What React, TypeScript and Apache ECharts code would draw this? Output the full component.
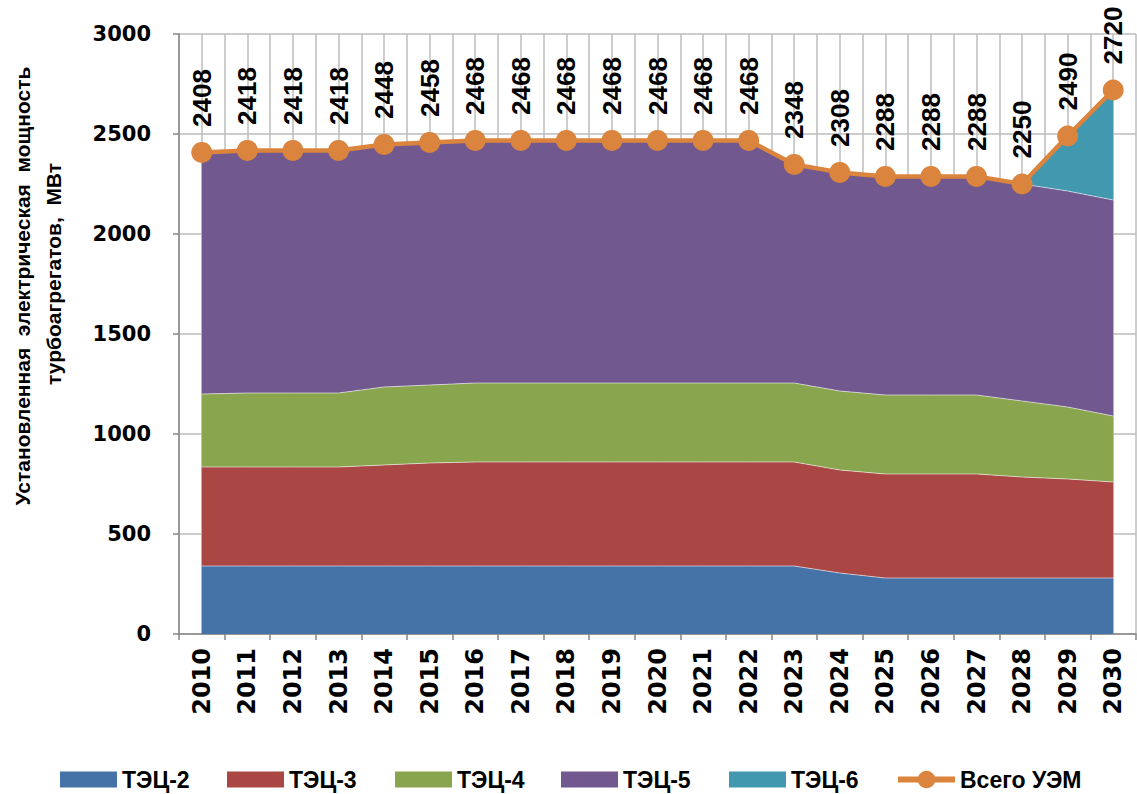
import React, { useEffect, useRef } from "react";
import * as echarts from "echarts";

const years = ["2010","2011","2012","2013","2014","2015","2016","2017","2018","2019","2020","2021","2022","2023","2024","2025","2026","2027","2028","2029","2030"];
const tec2 = [340,340,340,340,340,340,340,340,340,340,340,340,340,340,305,280,280,280,280,280,280];
const tec3 = [495,495,495,495,505,515,520,520,520,520,520,520,520,520,515,520,520,520,505,495,480];
const tec4 = [365,370,370,370,390,390,395,395,395,395,395,395,395,395,395,395,395,395,380,360,330];
const tec5 = [1208,1213,1213,1213,1213,1213,1213,1213,1213,1213,1213,1213,1213,1093,1093,1093,1093,1093,1085,1080,1080];
const tec6 = [0,0,0,0,0,0,0,0,0,0,0,0,0,0,0,0,0,0,0,275,550];
const total = [2408,2418,2418,2418,2448,2458,2468,2468,2468,2468,2468,2468,2468,2348,2308,2288,2288,2288,2250,2490,2720];

const areaNames = ["ТЭЦ-2", "ТЭЦ-3", "ТЭЦ-4", "ТЭЦ-5", "ТЭЦ-6"];
const areaData = [tec2, tec3, tec4, tec5, tec6];
const areaColors = ["#4572A7", "#AA4643", "#89A54E", "#71588F", "#4198AF"];
const totalName = "Всего УЭМ";
const totalColor = "#DB843D";
const yTitle1 = "Установленная  электрическая  мощность";
const yTitle2 = "турбоагрегатов,  МВт";

const LIB = '"Liberation Sans", Arial, sans-serif';
const DJV = '"DejaVu Sans", sans-serif';

export default function App() {
  const ref = useRef<HTMLDivElement>(null);
  useEffect(() => {
    document.body.style.margin = "0";
    const chart = echarts.init(ref.current!, null, { renderer: "svg" });
    const halves = years.flatMap((y) => [y + "a", y + "b"]);
    const legendLefts = [55, 222, 390, 556, 724, 890];
    const legendNames = [...areaNames, totalName];
    const option: any = {
      animation: false,
      backgroundColor: "#ffffff",
      grid: { left: 179, right: 1, top: 34, bottom: 160, containLabel: false },
      legend: legendNames.map((n, i) => ({
        data: i < 5 ? [{ name: n, icon: "rect" }] : [{ name: n }],
        left: legendLefts[i],
        top: 763,
        itemWidth: 57,
        itemHeight: i < 5 ? 16 : 22,
        itemGap: 0,
        lineStyle: i < 5 ? undefined : { width: 6 },
        textStyle: { fontFamily: LIB, fontSize: 23, fontWeight: "bold", color: "#000" },
      })),
      xAxis: [
        {
          type: "category",
          data: years,
          boundaryGap: true,
          axisLine: { lineStyle: { color: "#868686", width: 1.5 } },
          axisTick: { show: true, interval: 0, length: 6, lineStyle: { color: "#868686", width: 1.5 } },
          axisLabel: {
            interval: 0,
            rotate: 90,
            margin: 14,
            fontFamily: DJV,
            fontSize: 24,
            fontWeight: "bold",
            color: "#000",
          },
          splitLine: { show: false },
        },
        {
          type: "category",
          data: halves,
          boundaryGap: true,
          position: "bottom",
          axisLine: { show: false },
          axisTick: { show: false },
          axisLabel: { show: false },
          splitLine: { show: true, interval: 0, lineStyle: { color: "#BDBDBD", width: 1.5 } },
        },
      ],
      yAxis: {
        type: "value",
        min: 0,
        max: 3000,
        interval: 500,
        axisLine: { show: true, lineStyle: { color: "#868686", width: 1.5 } },
        axisTick: { show: true, length: 6, lineStyle: { color: "#868686", width: 1.5 } },
        axisLabel: {
          margin: 28,
          fontFamily: DJV,
          fontSize: 21,
          fontWeight: "bold",
          color: "#000",
          formatter: (v: number) => String(v),
        },
        splitLine: { show: true, lineStyle: { color: "#BDBDBD", width: 1.5 } },
      },
      graphic: [
        {
          type: "text",
          x: 22,
          y: 286,
          rotation: Math.PI / 2,
          style: {
            text: yTitle1,
            fontFamily: LIB,
            fontSize: 21,
            fontWeight: "bold",
            fill: "#000",
            align: "center",
            verticalAlign: "middle",
          },
        },
        {
          type: "text",
          x: 53,
          y: 274,
          rotation: Math.PI / 2,
          style: {
            text: yTitle2,
            fontFamily: LIB,
            fontSize: 21,
            fontWeight: "bold",
            fill: "#000",
            align: "center",
            verticalAlign: "middle",
          },
        },
      ],
      series: [
        ...areaNames.map((n, i) => ({
          name: n,
          type: "line",
          stack: "total",
          data: areaData[i],
          symbol: "none",
          showSymbol: false,
          color: areaColors[i],
          itemStyle: { color: areaColors[i] },
          lineStyle: { width: 1, color: "rgba(255,255,255,0.55)" },
          areaStyle: { color: areaColors[i], opacity: 1 },
          z: 2,
        })),
        {
          name: totalName,
          type: "line",
          data: total,
          symbol: "circle",
          symbolSize: 21,
          color: totalColor,
          itemStyle: { color: totalColor },
          lineStyle: { width: 4.5, color: totalColor },
          z: 5,
          label: {
            show: true,
            position: "top",
            rotate: 90,
            align: "left",
            verticalAlign: "middle",
            distance: 15,
            fontFamily: LIB,
            fontSize: 26,
            fontWeight: "bold",
            color: "#000",
          },
        },
      ],
    };
    chart.setOption(option);
    return () => chart.dispose();
  }, []);
  return <div ref={ref} style={{ width: 1137, height: 794 }} />;
}
